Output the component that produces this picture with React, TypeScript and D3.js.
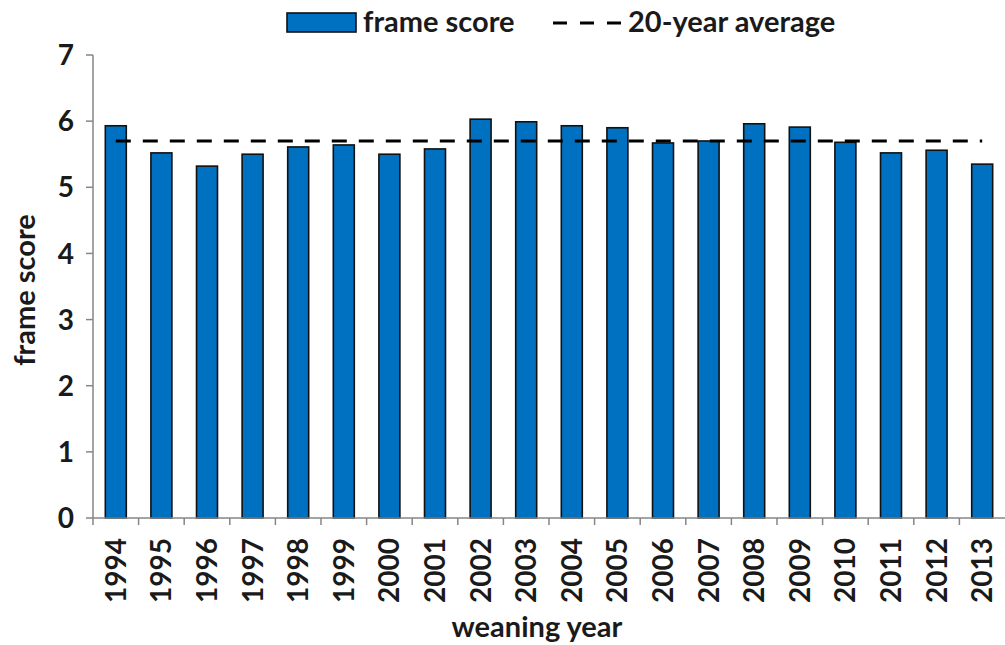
import React from "react";
import * as d3 from "d3";

const years = ["1994","1995","1996","1997","1998","1999","2000","2001","2002","2003","2004","2005","2006","2007","2008","2009","2010","2011","2012","2013"];
const frameScore = [5.93,5.52,5.32,5.50,5.61,5.64,5.50,5.58,6.03,5.99,5.93,5.90,5.67,5.70,5.96,5.91,5.68,5.52,5.56,5.35];
const average = 5.70;
const yTicks = [0,1,2,3,4,5,6,7];

const W = 1005, H = 645;
const left = 93, right = 1005, top = 55, bottom = 518;
const FONT = "Lato, 'Open Sans', sans-serif";

export default function App() {
  const x = d3.scaleBand<string>().domain(years).range([left, right]).paddingInner(0).paddingOuter(0);
  const y = d3.scaleLinear().domain([0, 7]).range([bottom, top]);
  const bw = x.bandwidth() * 0.46;
  const axisColor = "#868686";
  return (
    <svg width={W} height={H} style={{ position: "absolute", left: 0, top: 0 }} fontFamily={FONT} fontWeight="bold">
      {/* bars */}
      {years.map((yr, i) => (
        <rect key={yr} x={x(yr)! + x.bandwidth() / 2 - bw / 2} y={y(frameScore[i])} width={bw} height={y(0) - y(frameScore[i])}
          fill="#0070C0" stroke="#111" strokeWidth={1.6} />
      ))}
      {/* average line */}
      <line x1={x(years[0])! + x.bandwidth() / 2} x2={x(years[years.length - 1])! + x.bandwidth() / 2}
        y1={y(average)} y2={y(average)} stroke="#000" strokeWidth={3} strokeDasharray="15 12" />
      {/* y axis */}
      <line x1={left} x2={left} y1={top} y2={bottom} stroke={axisColor} strokeWidth={1.5} />
      {yTicks.map(t => (
        <g key={t}>
          <line x1={left - 7} x2={left} y1={y(t)} y2={y(t)} stroke={axisColor} strokeWidth={1.5} />
          <text x={left - 19} y={y(t)} dy="0.36em" textAnchor="end" fontSize={28} fill="#1a1a1a">{t}</text>
        </g>
      ))}
      {/* x axis */}
      <line x1={left} x2={right} y1={bottom} y2={bottom} stroke={axisColor} strokeWidth={1.5} />
      {years.map((yr, i) => (
        <line key={"t" + yr} x1={x(yr)!} x2={x(yr)!} y1={bottom} y2={bottom + 7} stroke={axisColor} strokeWidth={1.5} />
      ))}
      {years.map(yr => (
        <text key={"l" + yr} transform={`translate(${x(yr)! + x.bandwidth() / 2},${538}) rotate(-90)`}
          dy="0.36em" textAnchor="end" fontSize={28} fill="#1a1a1a">{yr}</text>
      ))}
      {/* axis titles */}
      <text transform={`translate(${25},${290}) rotate(-90)`} dy="0.36em" textAnchor="middle" fontSize={29} fill="#1a1a1a">frame score</text>
      <text x={537} y={637} textAnchor="middle" fontSize={29} fill="#1a1a1a">weaning year</text>
      {/* legend */}
      <rect x={287} y={13} width={69} height={19} fill="#0070C0" stroke="#111" strokeWidth={1.6} />
      <text x={363} y={22} dy="0.36em" fontSize={29} fill="#1a1a1a">frame score</text>
      <line x1={553} x2={621} y1={23} y2={23} stroke="#000" strokeWidth={3} strokeDasharray="14 13" />
      <text x={628} y={22} dy="0.36em" fontSize={29} fill="#1a1a1a">20-year average</text>
    </svg>
  );
}
